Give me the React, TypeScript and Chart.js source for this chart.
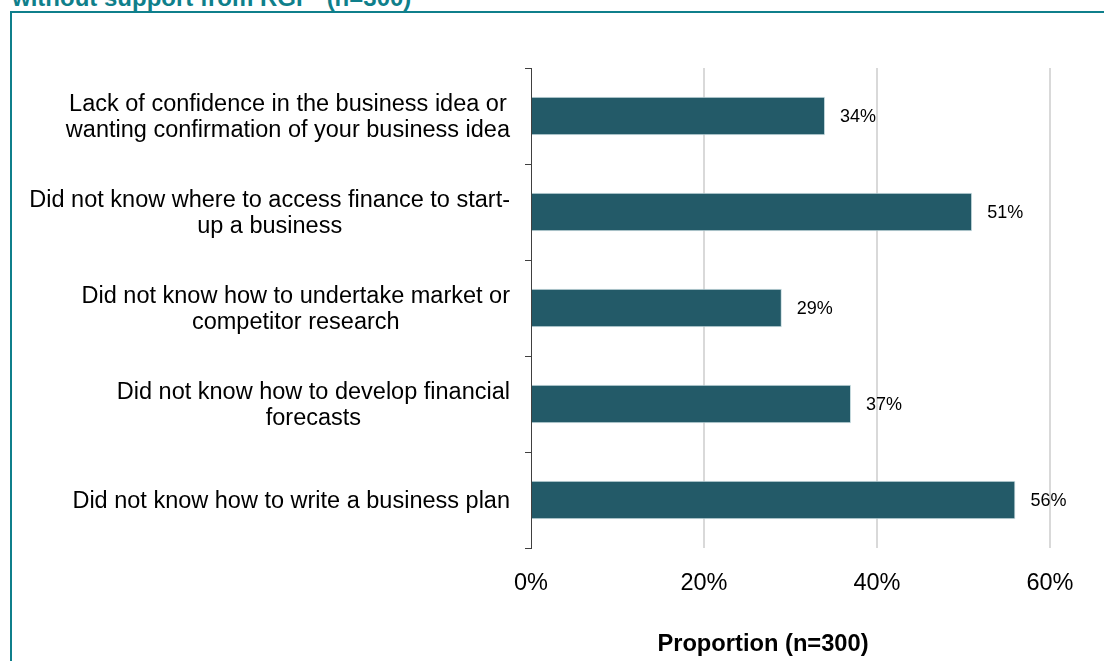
import React, { useEffect, useRef } from "react";
import { Chart, registerables } from "chart.js";

Chart.register(...registerables);

const categories: string[][] = [
  ["Lack of confidence in the business idea or", "wanting confirmation of your business idea"],
  ["Did not know where to access finance to start-", "up a business"],
  ["Did not know how to undertake market or", "competitor research"],
  ["Did not know how to develop financial", "forecasts"],
  ["Did not know how to write a business plan"],
];
const proportions: number[] = [34, 51, 29, 37, 56];
const xTicks: number[] = [0, 20, 40, 60];
const axisTitle = "Proportion (n=300)";
const heading = "without support from RGF* (n=300)";

const TEAL = "#0f7f8b";
const BAR = "#235a68";
const FONT = "Arial, 'Liberation Sans', sans-serif";

// Category labels: each block sits flush right against the axis, its lines centred within it
const categoryLabels = {
  id: "categoryLabels",
  afterDraw(chart: any) {
    const { ctx, chartArea } = chart;
    const yScale = chart.scales.y;
    const size = 23.5;
    const lineH = 26;
    ctx.save();
    ctx.font = `${size}px ${FONT}`;
    ctx.fillStyle = "#000";
    ctx.textAlign = "center";
    ctx.textBaseline = "middle";
    const right = chartArea.left - 6 - 15;
    categories.forEach((lines, i) => {
      const widest = Math.max(...lines.map((l) => ctx.measureText(l).width));
      const cx = right - widest / 2;
      const cy = yScale.getPixelForValue(i) + 2;
      const top = cy - ((lines.length - 1) * lineH) / 2;
      lines.forEach((l, j) => ctx.fillText(l, cx, top + j * lineH));
    });
    ctx.restore();
  },
};

// Writes the percentage just beyond the end of every bar
const barValueLabels = {
  id: "barValueLabels",
  afterDatasetsDraw(chart: any) {
    const { ctx } = chart;
    const meta = chart.getDatasetMeta(0);
    ctx.save();
    ctx.font = `18px ${FONT}`;
    ctx.fillStyle = "#000";
    ctx.textAlign = "left";
    ctx.textBaseline = "middle";
    meta.data.forEach((bar: any, i: number) => {
      ctx.fillText(proportions[i] + "%", bar.x + 15, bar.y + 1);
    });
    ctx.restore();
  },
};

// Bold axis caption under the tick labels
const axisCaption = {
  id: "axisCaption",
  afterDraw(chart: any) {
    const { ctx, chartArea } = chart;
    ctx.save();
    ctx.font = `bold 23.7px ${FONT}`;
    ctx.fillStyle = "#000";
    ctx.textAlign = "center";
    ctx.textBaseline = "middle";
    ctx.fillText(axisTitle, chartArea.left + chartArea.width * 0.447, chartArea.bottom + 96);
    ctx.restore();
  },
};

export default function App() {
  const canvasRef = useRef<HTMLCanvasElement | null>(null);

  useEffect(() => {
    if (!canvasRef.current) return;
    const chart = new Chart(canvasRef.current, {
      type: "bar",
      data: {
        labels: categories,
        datasets: [
          {
            data: proportions,
            backgroundColor: BAR,
            borderColor: "#c9dde1",
            borderWidth: 1,
            categoryPercentage: 1,
            barPercentage: 0.4,
          },
        ],
      },
      options: {
        indexAxis: "y",
        animation: false,
        responsive: false,
        maintainAspectRatio: false,
        layout: { padding: { left: 0, right: 54, top: 68, bottom: 0 } },
        plugins: {
          legend: { display: false },
          tooltip: { enabled: false },
          title: { display: false },
        },
        scales: {
          x: {
            min: 0,
            max: 60,
            afterBuildTicks: (scale: any) => {
              scale.ticks = xTicks.map((v) => ({ value: v }));
            },
            afterFit: (scale: any) => {
              scale.height = 113;
            },
            border: { display: false },
            grid: {
              color: (c: any) => (c.tick && c.tick.value === 0 ? "rgba(0,0,0,0)" : "#d9d9d9"),
              lineWidth: 2,
              drawTicks: false,
            },
            ticks: {
              padding: 21,
              color: "#000",
              font: { family: FONT, size: 23.5 },
              callback: (v: any) => v + "%",
            },
          },
          y: {
            afterFit: (scale: any) => {
              scale.width = 531;
            },
            border: { display: true, color: "#404040", width: 1 },
            grid: {
              drawOnChartArea: false,
              drawTicks: true,
              tickLength: 6,
              tickColor: "#404040",
              offset: true,
            },
            ticks: {
              padding: 15,
              color: "rgba(0,0,0,0)",
              font: { family: FONT, size: 23.5, lineHeight: 1.1 },
            },
          },
        },
      },
      plugins: [barValueLabels, categoryLabels, axisCaption],
    });
    return () => chart.destroy();
  }, []);

  return (
    <div
      style={{
        position: "fixed",
        left: 0,
        top: 0,
        width: 1104,
        height: 661,
        overflow: "hidden",
        background: "#fff",
      }}
    >
      <div
        style={{
          position: "absolute",
          left: 10,
          top: 11,
          width: 1200,
          height: 800,
          border: `2px solid ${TEAL}`,
          boxSizing: "border-box",
        }}
      />
      <div
        style={{
          position: "absolute",
          left: 12,
          top: 10,
          transform: "translateY(-100%)",
          whiteSpace: "nowrap",
          color: TEAL,
          font: `bold 24px ${FONT}`,
          lineHeight: "24px",
        }}
      >
        {heading}
      </div>
      <canvas
        ref={canvasRef}
        width={1104}
        height={661}
        style={{ position: "absolute", left: 0, top: 0, width: 1104, height: 661 }}
      />
    </div>
  );
}
